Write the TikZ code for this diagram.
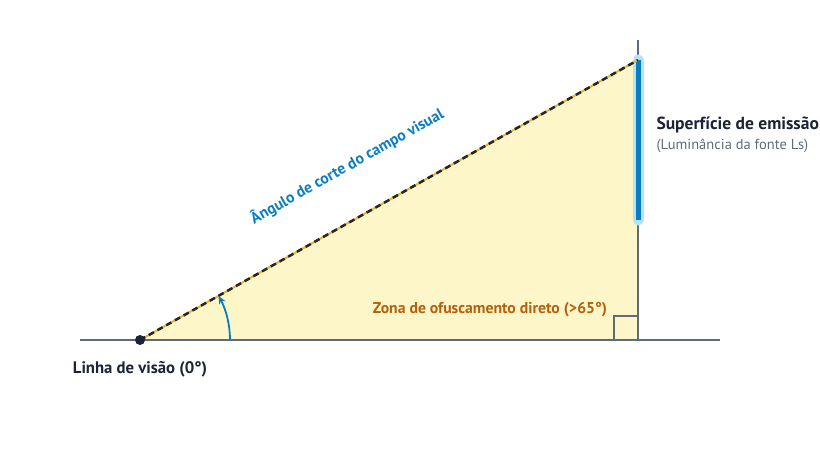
\documentclass[tikz,border=0pt]{standalone}
\usepackage{fontspec}
\setmainfont{PT Sans}
\usepackage{tikz}
\usetikzlibrary{arrows.meta}
\definecolor{axisgray}{HTML}{5E6B7B}
\definecolor{zoneyellow}{HTML}{FDF6C8}
\definecolor{dashyellow}{HTML}{E8B730}
\definecolor{lampblue}{HTML}{0A7DC2}
\definecolor{glowblue}{HTML}{B5E3F8}
\definecolor{textdark}{HTML}{1B2335}
\definecolor{zoneorange}{HTML}{B5600C}

\begin{document}
\begin{tikzpicture}[x=1pt,y=1pt]
\useasboundingbox (0,0) rectangle (820,460);

% corners of the triangle
\coordinate (eye) at (140,120);
\coordinate (apex) at (638,400);
\coordinate (foot) at (638,120);

\fill[zoneyellow] (eye) -- (apex) -- (foot) -- cycle;

% x-Axis
\node (xStart) at (80,120) {};
\node (xEnd) at (720,120) {};
\draw[axisgray,line width=2] (xStart.center) -- (xEnd.center);

% y-Axis
\node (yStart) at (638,120) {};
\node (yEnd) at (638,420) {};
\draw[axisgray,line width=2] (yStart.center) -- (yEnd.center);

% right angle
\draw[axisgray,line width=1.5] (614,120) -- (614,144) -- (638,144);

% surface
\node (lampTop) at (638,400) {};
\node (lampBottom) at (638,240) {};
\draw[glowblue,line width=11,line cap=round] (lampTop.center) -- (lampBottom.center);
\draw[lampblue,line width=5] (lampTop.center) -- (lampBottom.center);

% cut-off line
\draw[dashyellow,line width=2] (eye) -- (apex);
\draw[black!85,line width=2.5,dash pattern=on 6pt off 4pt] (eye) -- node[pos=0.465,above=37pt,sloped,text=lampblue,font=\bfseries\fontsize{15.7}{18}\selectfont]{Ângulo de corte do campo visual} (apex);

% angle
\draw[lampblue,line width=1.8,-{Stealth[length=8pt,width=7pt]}] (230,120) arc[start angle=0,end angle=29.3,radius=90];

\fill[textdark] (eye) circle (5);

% labels
\node[text=zoneorange,font=\bfseries\fontsize{15.7}{18}\selectfont] (zone) at (490,150) {Zona de ofuscamento direto (>65°)};
\node[anchor=west,text=textdark,font=\bfseries\fontsize{17.5}{20}\selectfont] (surface) at (653,335) {Superfície de emissão};
\node[anchor=west,text=axisgray,font=\fontsize{14.5}{17}\selectfont] (lum) at (653,314) {(Luminância da fonte Ls)};
\node[text=textdark,font=\bfseries\fontsize{16.7}{19}\selectfont] (sight) at (140,91) {Linha de visão (0°)};
\end{tikzpicture}
\end{document}
